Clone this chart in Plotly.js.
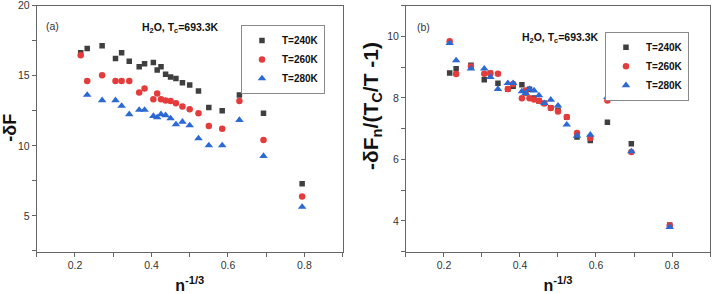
<!DOCTYPE html>
<html>
<head>
<meta charset="utf-8">
<script src="https://cdn.plot.ly/plotly-3.0.1.min.js"></script>
<style>html,body{margin:0;padding:0;background:#fff;}#chart{width:713px;height:294px;}</style>
</head>
<body>
<div id="chart"></div>
<script>
// n^(-1/3) values (shared x positions)
var nInv = [0.215, 0.232, 0.271, 0.306, 0.322, 0.342, 0.368, 0.382, 0.405, 0.415, 0.425, 0.437, 0.450, 0.464, 0.481, 0.500, 0.523, 0.550, 0.585, 0.630, 0.693, 0.794];

// Panel (a): -dF
var dF240 = [16.65, 16.95, 17.14, 16.23, 16.64, 16.04, 15.64, 15.85, 15.95, 15.42, 15.64, 15.11, 14.92, 14.80, 14.51, 14.35, 13.92, 12.73, 12.51, 13.63, 12.32, 7.29];
var dF260 = [16.47, 14.63, 15.04, 14.63, 14.63, 14.63, 13.80, 14.09, 13.32, 13.73, 13.32, 13.23, 13.20, 13.04, 12.80, 12.61, 12.32, 11.41, 11.22, 13.20, 10.41, 6.38];
var dF280 = [null, 13.63, 13.25, 13.25, 12.85, 12.25, 12.56, 12.56, 12.13, 12.03, 12.25, 12.18, 11.96, 11.53, 11.72, 11.46, 10.53, 10.03, 10.03, 11.84, 9.27, 5.64];

// Panel (b): -dF_n/(Tc/T - 1)
var sc240 = [8.81, 8.95, 9.06, 8.59, 8.80, 8.48, 8.28, 8.38, 8.43, 8.16, 8.28, 8.00, 7.90, 7.83, 7.68, 7.60, 7.37, 6.73, 6.62, 7.21, 6.51, 3.87];
var sc260 = [9.84, 8.78, 9.02, 8.79, 8.80, 8.79, 8.29, 8.45, 7.99, 8.24, 7.99, 7.95, 7.91, 7.82, 7.67, 7.56, 7.38, 6.86, 6.70, 7.92, 6.24, 3.85];
var sc280 = [9.78, 9.22, 8.95, 8.95, 8.68, 8.29, 8.48, 8.48, 8.21, 8.16, 8.29, 8.24, 8.08, 7.83, 7.94, 7.75, 7.13, 6.77, 6.80, 8.03, 6.26, 3.80];

var seriesNames = ['T=240K', 'T=260K', 'T=280K'];
var colors = ['#3f3f3f', '#e43c3c', '#2b69d3'];
var symbols = ['square', 'circle', 'triangle-up'];
var sizes = [5.5, 6.5, 7.5];

var FONT = 'Liberation Sans, Arial, Helvetica, sans-serif';
var AX = '#666';

function mk(y, i, xa, ya, lg) {
  return {
    x: nInv, y: y, type: 'scatter', mode: 'markers', name: seriesNames[i],
    xaxis: xa, yaxis: ya, legend: lg,
    marker: {symbol: symbols[i], color: colors[i], size: sizes[i], line: {width: 0}}
  };
}

var data = [
  mk(dF240, 0, 'x', 'y', 'legend'),
  mk(dF260, 1, 'x', 'y', 'legend'),
  mk(dF280, 2, 'x', 'y', 'legend'),
  mk(sc240, 0, 'x2', 'y2', 'legend2'),
  mk(sc260, 1, 'x2', 'y2', 'legend2'),
  mk(sc280, 2, 'x2', 'y2', 'legend2')
];

var yDom = [0.1439, 0.9806];
function xAx(dom, anchor) {
  return {
    domain: dom, anchor: anchor, range: [0.1, 0.9], tick0: 0, dtick: 0.2, tickformat: '.1f',
    ticks: 'outside', ticklen: 4, tickcolor: AX, tickwidth: 1,
    showline: true, linecolor: AX, linewidth: 1, mirror: true,
    showgrid: false, zeroline: false, ticklabeloverflow: 'allow',
    minor: {dtick: 0.1, ticks: 'outside', ticklen: 4, tickcolor: AX, showgrid: false},
    tickfont: {family: FONT, size: 10.5, color: '#333'},
    title: {text: '<b>n<sup>-1/3</sup></b>', font: {family: FONT, size: 16, color: '#111'}, standoff: 10}
  };
}
function yAx(range, dt, mdt, anchor) {
  return {
    domain: yDom, anchor: anchor, range: range, tick0: 0, dtick: dt,
    ticks: 'outside', ticklen: 4, tickcolor: AX, tickwidth: 1,
    showline: true, linecolor: AX, linewidth: 1, mirror: true,
    showgrid: false, zeroline: false, ticklabeloverflow: 'allow',
    minor: {dtick: mdt, ticks: 'outside', ticklen: 4, tickcolor: AX, showgrid: false},
    tickfont: {family: FONT, size: 10.5, color: '#333'}
  };
}
function topAx(over, anchor, range) {
  return {overlaying: over, anchor: anchor, side: 'top', range: range, tick0: 0, dtick: 1,
    ticks: 'inside', ticklen: 4, tickcolor: AX, showticklabels: false, showline: false,
    showgrid: false, zeroline: false, fixedrange: true};
}
function rightAx(over, anchor) {
  return {overlaying: over, anchor: anchor, side: 'right', range: [-8.966, 1.014], tick0: 0, dtick: 1,
    ticks: 'inside', ticklen: 4, tickcolor: AX, showticklabels: false, showline: false,
    showgrid: false, zeroline: false, fixedrange: true};
}

var legendBase = {
  xanchor: 'right', yanchor: 'top', bgcolor: '#fff', bordercolor: '#8a8a8a', borderwidth: 1,
  font: {family: FONT, size: 10, color: '#111', weight: 'bold'}, itemwidth: 30
};

var layout = {
  width: 713, height: 294,
  margin: {l: 0, r: 0, t: 0, b: 0},
  paper_bgcolor: '#fff', plot_bgcolor: '#fff',
  font: {family: FONT, color: '#333'},
  showlegend: true,
  xaxis: xAx([0.0515, 0.4806], 'y'),
  yaxis: yAx([2.45, 20.0], 5, 2.5, 'x'),
  xaxis2: xAx([0.5694, 0.9958], 'y2'),
  yaxis2: yAx([3, 11], 2, 1, 'x2'),
  xaxis3: topAx('x', 'y', [-1.016, 9.016]),
  yaxis3: rightAx('y', 'x'),
  xaxis4: topAx('x2', 'y2', [-1.0, 8.97]),
  yaxis4: rightAx('y2', 'x2'),
  legend: Object.assign({}, legendBase, {x: 0.4558, y: 0.915}),
  legend2: Object.assign({}, legendBase, {x: 0.9663, y: 0.892}),
  annotations: [
    {text: '(a)', xref: 'paper', yref: 'paper', x: 0.0743, y: 0.9116, showarrow: false,
     xanchor: 'center', yanchor: 'middle', font: {family: FONT, size: 10.5, color: '#333'}},
    {text: '<b>H<sub>2</sub>O, T<sub>c</sub>=693.3K</b>', xref: 'paper', yref: 'paper', x: 0.2525, y: 0.905,
     showarrow: false, xanchor: 'center', yanchor: 'middle', font: {family: FONT, size: 10.5, color: '#111'}},
    {text: '(b)', xref: 'paper', yref: 'paper', x: 0.5933, y: 0.9092, showarrow: false,
     xanchor: 'center', yanchor: 'middle', font: {family: FONT, size: 10.5, color: '#333'}},
    {text: '<b>H<sub>2</sub>O, T<sub>c</sub>=693.3K</b>', xref: 'paper', yref: 'paper', x: 0.7868, y: 0.872,
     showarrow: false, xanchor: 'center', yanchor: 'middle', font: {family: FONT, size: 10.5, color: '#111'}},
    {text: '<b>-δF</b>', xref: 'paper', yref: 'paper', x: 0.0135, y: 0.5646, textangle: -90,
     showarrow: false, xanchor: 'center', yanchor: 'middle', font: {family: FONT, size: 18, color: '#111'}},
    {text: '<b>-δF<sub>n</sub>/(T<sub>C</sub>/T -1)</b>', xref: 'paper', yref: 'paper', x: 0.5217, y: 0.6395, textangle: -90,
     showarrow: false, xanchor: 'center', yanchor: 'middle', font: {family: FONT, size: 21, color: '#111'}}
  ]
};

Plotly.newPlot('chart', data, layout, {displayModeBar: false, staticPlot: true});
</script>
</body>
</html>
